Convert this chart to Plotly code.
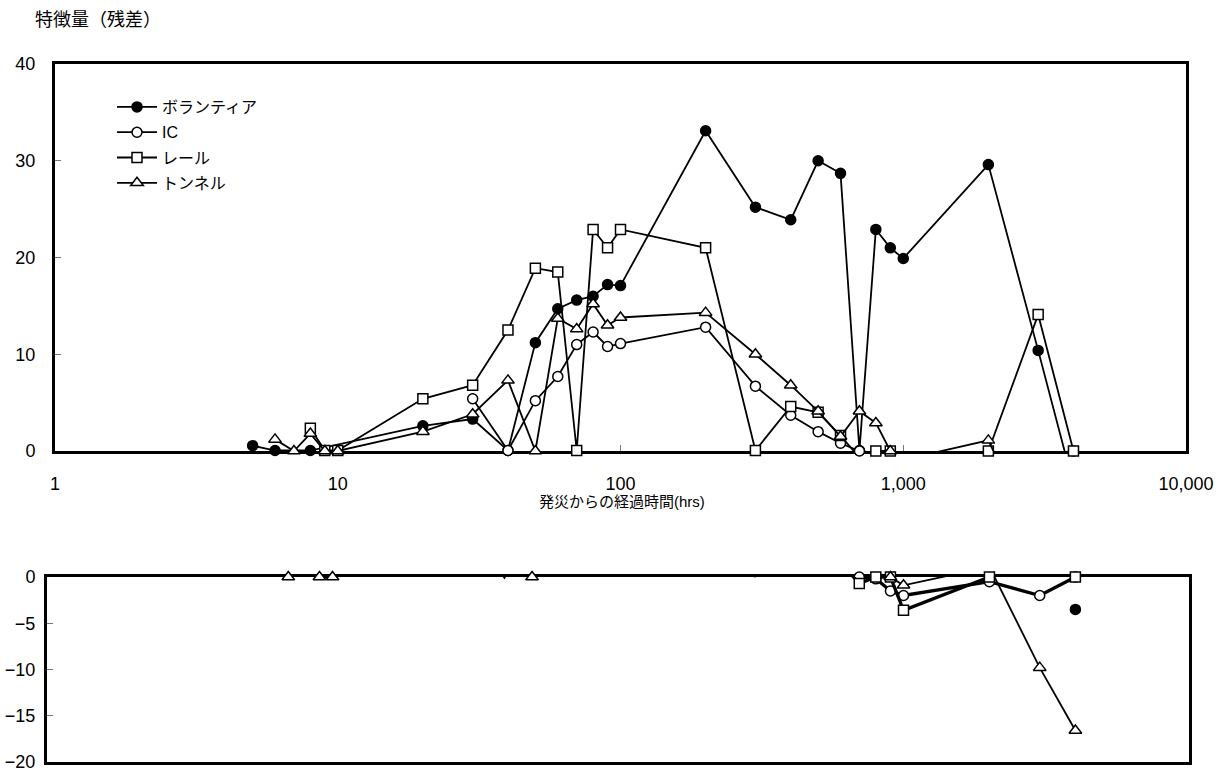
import plotly.graph_objects as go

# ---- data ----
HOURS = [5, 6, 7, 8, 9, 10, 20, 30, 40, 50, 60, 70, 80, 90, 100,
         200, 300, 400, 500, 600, 700, 800, 900, 1000, 2000, 3000, 4000]

VOLUNTEER = [0.55, 0.05, None, 0.05, None, None, 2.6, 3.3, 0.05, 11.2, 14.7, 15.6, 16.0, 17.2, 17.1,
             33.1, 25.2, 23.9, 30.0, 28.7, 0.05, 22.9, 21.0, 19.9, 29.6, 10.4, -3.5]
IC = [None, None, None, None, None, None, None, 5.4, 0.05, 5.2, 7.7, 11.0, 12.3, 10.8, 11.1,
      12.8, 6.7, 3.7, 2.0, 0.8, 0.0, -0.2, -1.5, -2.0, -0.5, -2.0, 0.0]
RAIL = [None, None, None, 2.35, 0.05, 0.05, 5.4, 6.8, 12.5, 18.9, 18.5, 0.05, 22.9, 21.0, 22.9,
        21.0, 0.05, 4.6, 4.0, 1.6, -0.7, 0.0, 0.0, -3.6, 0.0, 14.1, 0.0]
TUNNEL = [None, 1.2, 0.0, 1.8, 0.0, 0.0, 2.0, 3.8, 7.3, 0.0, 13.7, 12.6, 15.2, 13.0, 13.8,
          14.3, 10.0, 6.8, 4.1, 1.5, 4.1, 2.9, 0.0, -0.9, 1.1, -9.8, -16.6]

SERIES_NAMES = ["ボランティア", "IC", "レール", "トンネル"]
SERIES_VALUES = [VOLUNTEER, IC, RAIL, TUNNEL]

X_TICK_VALS = [1, 10, 100, 1000, 10000]
X_TICK_TEXT = ["1", "10", "100", "1,000", "10,000"]
Y_TOP_TICKS = [0, 10, 20, 30, 40]
Y_BOTTOM_TICKS = [0, -5, -10, -15, -20]

X_TITLE = "発災からの経過時間(hrs)"
Y_TITLE = "特徴量（残差）"

# ---- styles ----
STYLES = [
    dict(symbol="circle", color="black"),
    dict(symbol="circle", color="white"),
    dict(symbol="square", color="white"),
    dict(symbol="triangle-up", color="white"),
]
MARKER_SIZE = [10, 10, 10, 11]
BOTTOM_LINE_WIDTH = [0, 3.3, 3.3, 1.8]
BOTTOM_SHOW_LINE = [False, True, True, True]

W, H = 1221, 771


def fx(px):
    return px / W


def fy(py):
    return 1 - py / H


TICK_FONT = dict(family="Liberation Sans, Arial, sans-serif", size=18, color="black")
JP_FONT = "Liberation Sans, Noto Sans CJK JP, sans-serif"

fig = go.Figure()


def filtered(vals, lo, hi):
    xs, ys = [], []
    for x, v in zip(HOURS, vals):
        if v is not None and lo <= v <= hi:
            xs.append(x)
            ys.append(v)
    return xs, ys


for i, (name, vals) in enumerate(zip(SERIES_NAMES, SERIES_VALUES)):
    st = STYLES[i]
    mk = dict(symbol=st["symbol"], color=st["color"], size=MARKER_SIZE[i],
              line=dict(color="black", width=1.5))
    # top panel line
    fig.add_trace(go.Scatter(x=HOURS, y=vals, mode="lines", connectgaps=True,
                             line=dict(color="black", width=1.8),
                             xaxis="x", yaxis="y", showlegend=False, hoverinfo="skip"))
    xs, ys = filtered(vals, 0, 40)
    fig.add_trace(go.Scatter(x=xs, y=ys, mode="markers", marker=mk, cliponaxis=False,
                             xaxis="x", yaxis="y", showlegend=False))
    # legend entry
    fig.add_trace(go.Scatter(x=[None], y=[None], mode="lines+markers", name=name,
                             line=dict(color="black", width=1.8), marker=mk,
                             xaxis="x", yaxis="y", legendgroup=name))
    # bottom panel
    if BOTTOM_SHOW_LINE[i]:
        fig.add_trace(go.Scatter(x=HOURS, y=vals, mode="lines", connectgaps=True,
                                 line=dict(color="black", width=BOTTOM_LINE_WIDTH[i]),
                                 xaxis="x2", yaxis="y2", showlegend=False, hoverinfo="skip"))
    xs, ys = filtered(vals, -20, 0)
    fig.add_trace(go.Scatter(x=xs, y=ys, mode="markers", marker=mk, cliponaxis=False,
                             xaxis="x2", yaxis="y2", showlegend=False))

axis_common = dict(showline=True, linewidth=3, linecolor="black", mirror=True,
                   showgrid=False, zeroline=False, layer="below traces",
                   tickfont=TICK_FONT, automargin=False, ticklabeloverflow="allow")

fig.update_layout(
    width=W, height=H, autosize=False,
    margin=dict(l=0, r=0, t=0, b=0, pad=0, autoexpand=False),
    paper_bgcolor="white", plot_bgcolor="white",
    xaxis=dict(domain=[fx(55), fx(1186)], anchor="y", type="log", range=[0, 4],
               tickvals=X_TICK_VALS, ticktext=X_TICK_TEXT, ticks="inside", ticklen=6,
               tickcolor="#777", tickwidth=1, ticklabelstandoff=14, **axis_common),
    yaxis=dict(domain=[fy(451), fy(64)], anchor="x", range=[0, 40],
               tickvals=Y_TOP_TICKS, ticks="inside", ticklen=6, tickcolor="#777",
               tickwidth=1, ticklabelstandoff=13, **axis_common),
    xaxis2=dict(domain=[fx(47), fx(1189)], anchor="y2", type="log", range=[0, 4],
                showticklabels=False, ticks="", **axis_common),
    yaxis2=dict(domain=[fy(762), fy(577)], anchor="x2", range=[-20, 0],
                tickvals=Y_BOTTOM_TICKS, ticks="inside", ticklen=6, tickcolor="#777",
                tickwidth=1, ticklabelstandoff=5, **axis_common),
    legend=dict(x=fx(112), y=fy(90), xanchor="left", yanchor="top",
                bgcolor="rgba(0,0,0,0)", borderwidth=0,
                font=dict(family=JP_FONT, size=16, color="black"),
                tracegroupgap=1.5, itemwidth=40),
    annotations=[
        dict(text=Y_TITLE, xref="paper", yref="paper", x=fx(33), y=fy(20),
             xanchor="left", yanchor="middle", showarrow=False,
             font=dict(family=JP_FONT, size=18, color="black")),
        dict(text=X_TITLE, xref="paper", yref="paper", x=fx(622), y=fy(501),
             xanchor="center", yanchor="middle", showarrow=False,
             font=dict(family=JP_FONT, size=15, color="black")),
    ],
)

fig.write_html(
    "out.html",
    config={"displayModeBar": False},
    post_script="document.body.style.margin='0';document.body.style.overflow='hidden';",
)
